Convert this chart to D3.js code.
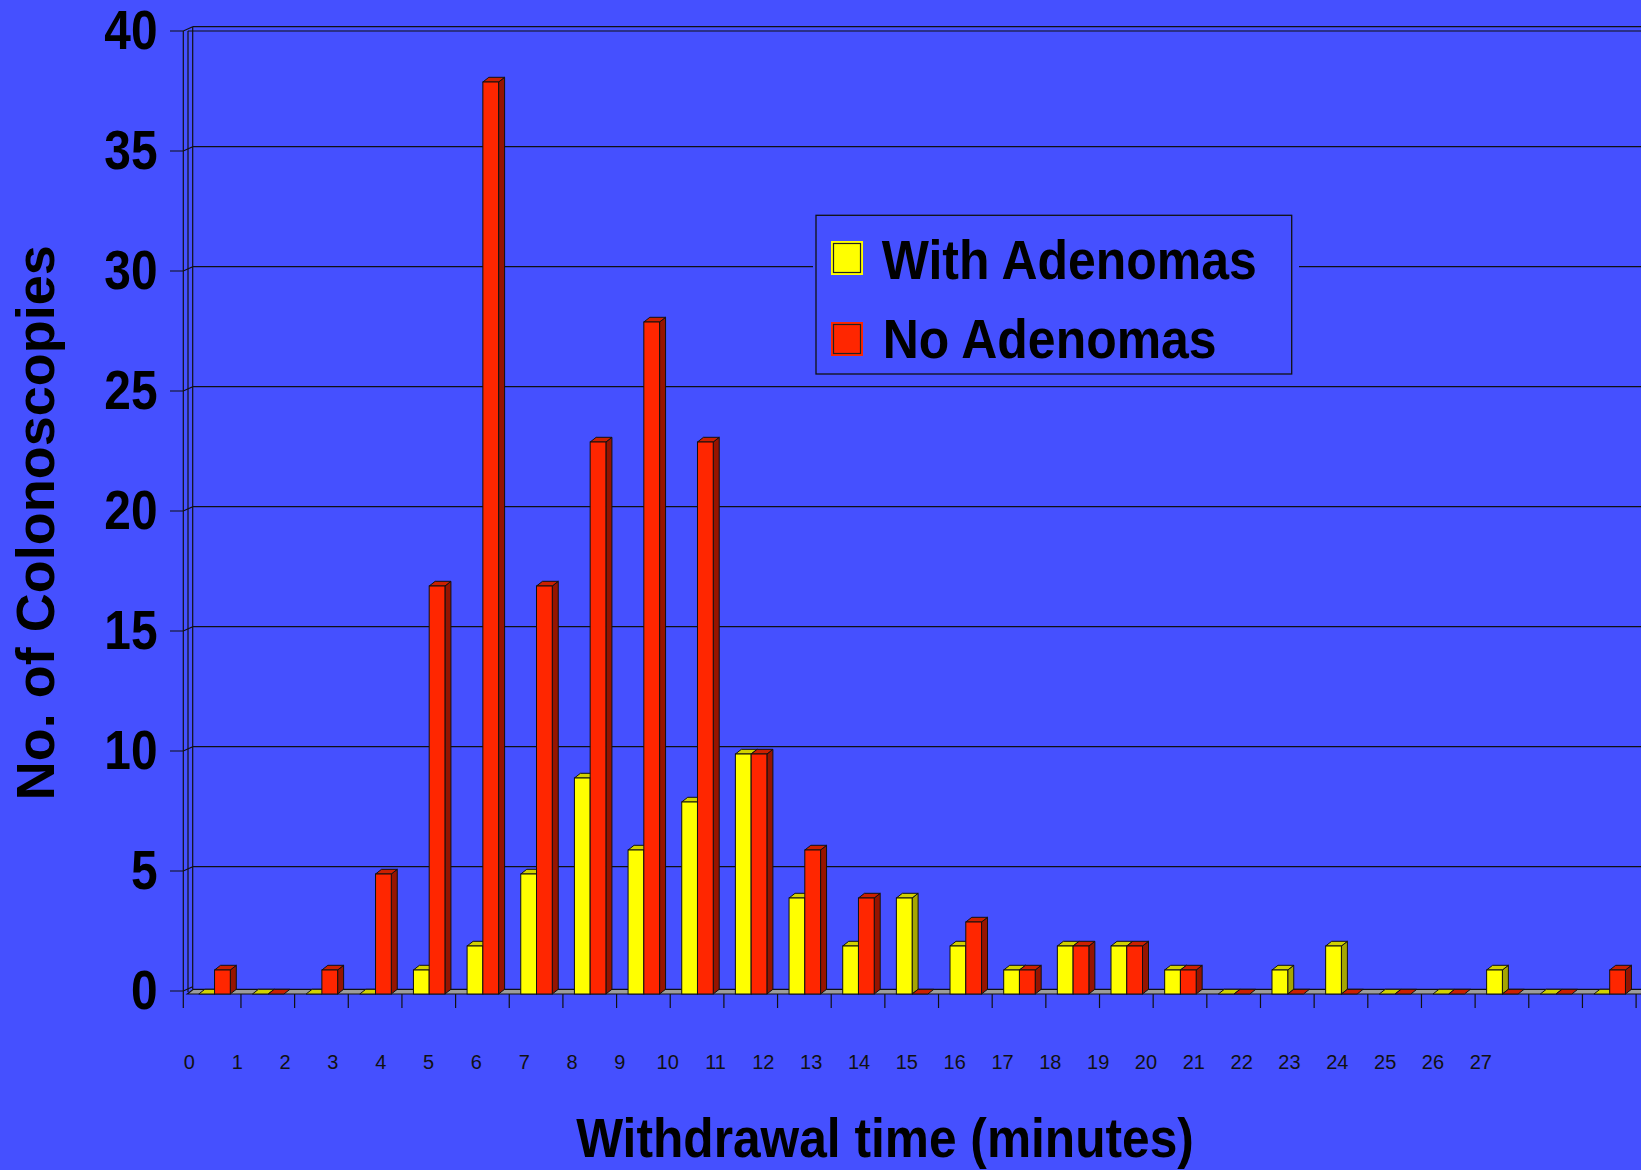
<!DOCTYPE html>
<html>
<head>
<meta charset="utf-8">
<script src="https://cdn.jsdelivr.net/npm/d3@7"></script>
<style>
  html, body { margin: 0; padding: 0; background: #4550FF; }
  svg { display: block; }
  text { font-family: "Liberation Sans", Arial, Helvetica, sans-serif; }
</style>
</head>
<body>
<svg id="chart" width="1641" height="1170"></svg>
<script>
// ---------------- data ----------------
const categories = ["1","2","3","4","5","6","7","8","9","10","11","12","13","14",
                    "15","16","17","18","19","20","21","22","23","24","25","26","27"];
const seriesNames = ["With Adenomas", "No Adenomas"];
const withAdenomas = [0,0,0,0,1,2,5,9,6,8,10,4,2,4,2,1,2,2,1,0,1,2,0,0,1,0,0];
const noAdenomas   = [1,0,1,5,17,38,17,23,28,23,10,6,4,0,3,1,2,2,1,0,0,0,0,0,0,0,1];
const xTickLabels = ["0","1","2","3","4","5","6","7","8","9","10","11","12","13",
                     "14","15","16","17","18","19","20","21","22","23","24","25","26","27"];
const yTickValues = [0,5,10,15,20,25,30,35,40];
const yTitle = "No. of Colonoscopies";
const xTitle = "Withdrawal time (minutes)";

// ---------------- style ----------------
const BG = "#4550FF";
const colors = {
  "With Adenomas": { front: "#FFFF00", top: "#D2D200", side: "#A6A600" },
  "No Adenomas":   { front: "#FF2600", top: "#CC2000", side: "#961400" }
};
const W = 1641, H = 1170;
const svg = d3.select("#chart");
svg.append("rect").attr("width", W).attr("height", H).attr("fill", BG);

// ---------------- scales ----------------
const x0 = d3.scaleBand().domain(categories).range([187.3, 1636.1]).padding(0);
const x1 = d3.scaleBand().domain(seriesNames).range([11.5, 43]).padding(0);
const y = d3.scaleLinear().domain([0, 40]).range([994, 34]);
const xl = d3.scalePoint().domain(xTickLabels).range([189.4, 1480.8]);

const bdx = 6, bdy = 4.7;     // bar depth
const wdx = 9.4, wdy = 4.3;   // wall depth
const axisX = 183.3;
const wallX = axisX + wdx;
const yA = v => y(v) - 3;     // axis plane

// ---------------- walls / gridlines ----------------
const g = svg.append("g");
g.selectAll("line.grid").data(yTickValues.filter(v => v > 0)).join("line")
  .attr("x1", wallX).attr("x2", W + 5)
  .attr("y1", v => yA(v) - wdy).attr("y2", v => yA(v) - wdy)
  .attr("stroke", "#111").attr("stroke-width", 1.2);
g.append("line").attr("x1", axisX + 4.7).attr("x2", W + 5)
  .attr("y1", yA(40)).attr("y2", yA(40)).attr("stroke", "#111").attr("stroke-width", 1.2);
g.selectAll("path.ytick").data(yTickValues).join("path")
  .attr("d", v => `M170,${yA(v)}L${axisX},${yA(v)}L${wallX},${yA(v) - wdy}`)
  .attr("fill", "none").attr("stroke", "#111").attr("stroke-width", 1.2);
g.append("line").attr("x1", axisX).attr("x2", axisX).attr("y1", yA(40)).attr("y2", y(0) + 14)
  .attr("stroke", "#111").attr("stroke-width", 1.2);
g.append("line").attr("x1", axisX + 4.7).attr("x2", axisX + 4.7).attr("y1", yA(40)).attr("y2", y(0) - 2)
  .attr("stroke", "#111").attr("stroke-width", 1.2);
g.append("line").attr("x1", wallX).attr("x2", wallX).attr("y1", yA(40) - wdy).attr("y2", y(0) - bdy)
  .attr("stroke", "#111").attr("stroke-width", 1.2);

// ---------------- floor ----------------
const fx0 = x0.range()[0];
g.append("path")
  .attr("d", `M${fx0},${y(0)}L${W + 10},${y(0)}L${W + 10},${y(0) - bdy}L${fx0 + bdx},${y(0) - bdy}Z`)
  .attr("fill", "#9C9C9C").attr("stroke", "#111").attr("stroke-width", 1.2);
const bounds = categories.map(c => x0(c)).concat([x0.range()[1]]);
g.selectAll("line.xtick").data(bounds.slice(1)).join("line")
  .attr("x1", d => d).attr("x2", d => d)
  .attr("y1", y(0)).attr("y2", y(0) + 14)
  .attr("stroke", "#111").attr("stroke-width", 1.2);

// ---------------- legend ----------------
const lg = svg.append("g");
lg.append("rect").attr("x", 813).attr("y", 212).attr("width", 486).attr("height", 165).attr("fill", BG);
lg.append("rect").attr("x", 816).attr("y", 215.3).attr("width", 475.7).attr("height", 158.7)
  .attr("fill", BG).attr("stroke", "#111").attr("stroke-width", 1.3);
const legRows = [
  { name: seriesNames[0], sy: 241, tx: 881.7, ty: 279.3 },
  { name: seriesNames[1], sy: 322, tx: 882.7, ty: 357.7 }
];
legRows.forEach(r => {
  lg.append("rect").attr("x", 832).attr("y", r.sy + 1).attr("width", 30).attr("height", 32)
    .attr("fill", colors[r.name].front).attr("stroke", colors[r.name].front).attr("stroke-width", 2);
  lg.append("rect").attr("x", 833.5).attr("y", r.sy + 2.5).attr("width", 27).attr("height", 29)
    .attr("fill", "none").attr("stroke", "#222").attr("stroke-width", 1.2);
  lg.append("text").attr("transform", `translate(${r.tx},${r.ty}) scale(0.892,1)`)
    .attr("font-size", 56).attr("font-weight", "bold").attr("fill", "#000")
    .text(r.name);
});

// ---------------- bars ----------------
const data = categories.map((c, i) => ({
  cat: c,
  vals: [
    { s: seriesNames[0], v: withAdenomas[i] },
    { s: seriesNames[1], v: noAdenomas[i] }
  ]
}));
const bw = x1.bandwidth();
const bars = svg.append("g");
data.forEach(d => {
  d.vals.forEach(b => {
    const x = x0(d.cat) + x1(b.s);
    const yt = y(b.v), yb = y(0);
    const col = colors[b.s];
    const gg = bars.append("g");
    if (b.v > 0) {
      gg.append("path")
        .attr("d", `M${x + bw},${yt}L${x + bw + bdx},${yt - bdy}L${x + bw + bdx},${yb - bdy}L${x + bw},${yb}Z`)
        .attr("fill", col.side).attr("stroke", "#111").attr("stroke-width", 1);
    }
    gg.append("path")
      .attr("d", `M${x},${yt}L${x + bw},${yt}L${x + bw + bdx},${yt - bdy}L${x + bdx},${yt - bdy}Z`)
      .attr("fill", col.top).attr("stroke", "#111").attr("stroke-width", 1);
    if (b.v > 0) {
      gg.append("rect").attr("x", x).attr("y", yt).attr("width", bw).attr("height", yb - yt)
        .attr("fill", col.front).attr("stroke", "#111").attr("stroke-width", 1);
    }
  });
});

// ---------------- texts ----------------
const tg = svg.append("g");
tg.selectAll("text.ylab").data(yTickValues).join("text")
  .attr("transform", v => `translate(157.5,${y(v) + 15.4}) scale(0.87,1)`)
  .attr("text-anchor", "end").attr("font-size", 55).attr("font-weight", "bold").attr("fill", "#000")
  .text(v => String(v));

tg.selectAll("text.xlab").data(xTickLabels).join("text")
  .attr("x", d => xl(d)).attr("y", 1069)
  .attr("text-anchor", "middle").attr("font-size", 20).attr("fill", "#111")
  .text(d => d);

tg.append("text")
  .attr("transform", "translate(54.3,522.7) rotate(-90)")
  .attr("text-anchor", "middle").attr("font-size", 54).attr("font-weight", "bold").attr("fill", "#000")
  .text(yTitle);

tg.append("text")
  .attr("transform", "translate(885,1156.7) scale(0.887,1)")
  .attr("text-anchor", "middle").attr("font-size", 56).attr("font-weight", "bold").attr("fill", "#000")
  .text(xTitle);
</script>
</body>
</html>
